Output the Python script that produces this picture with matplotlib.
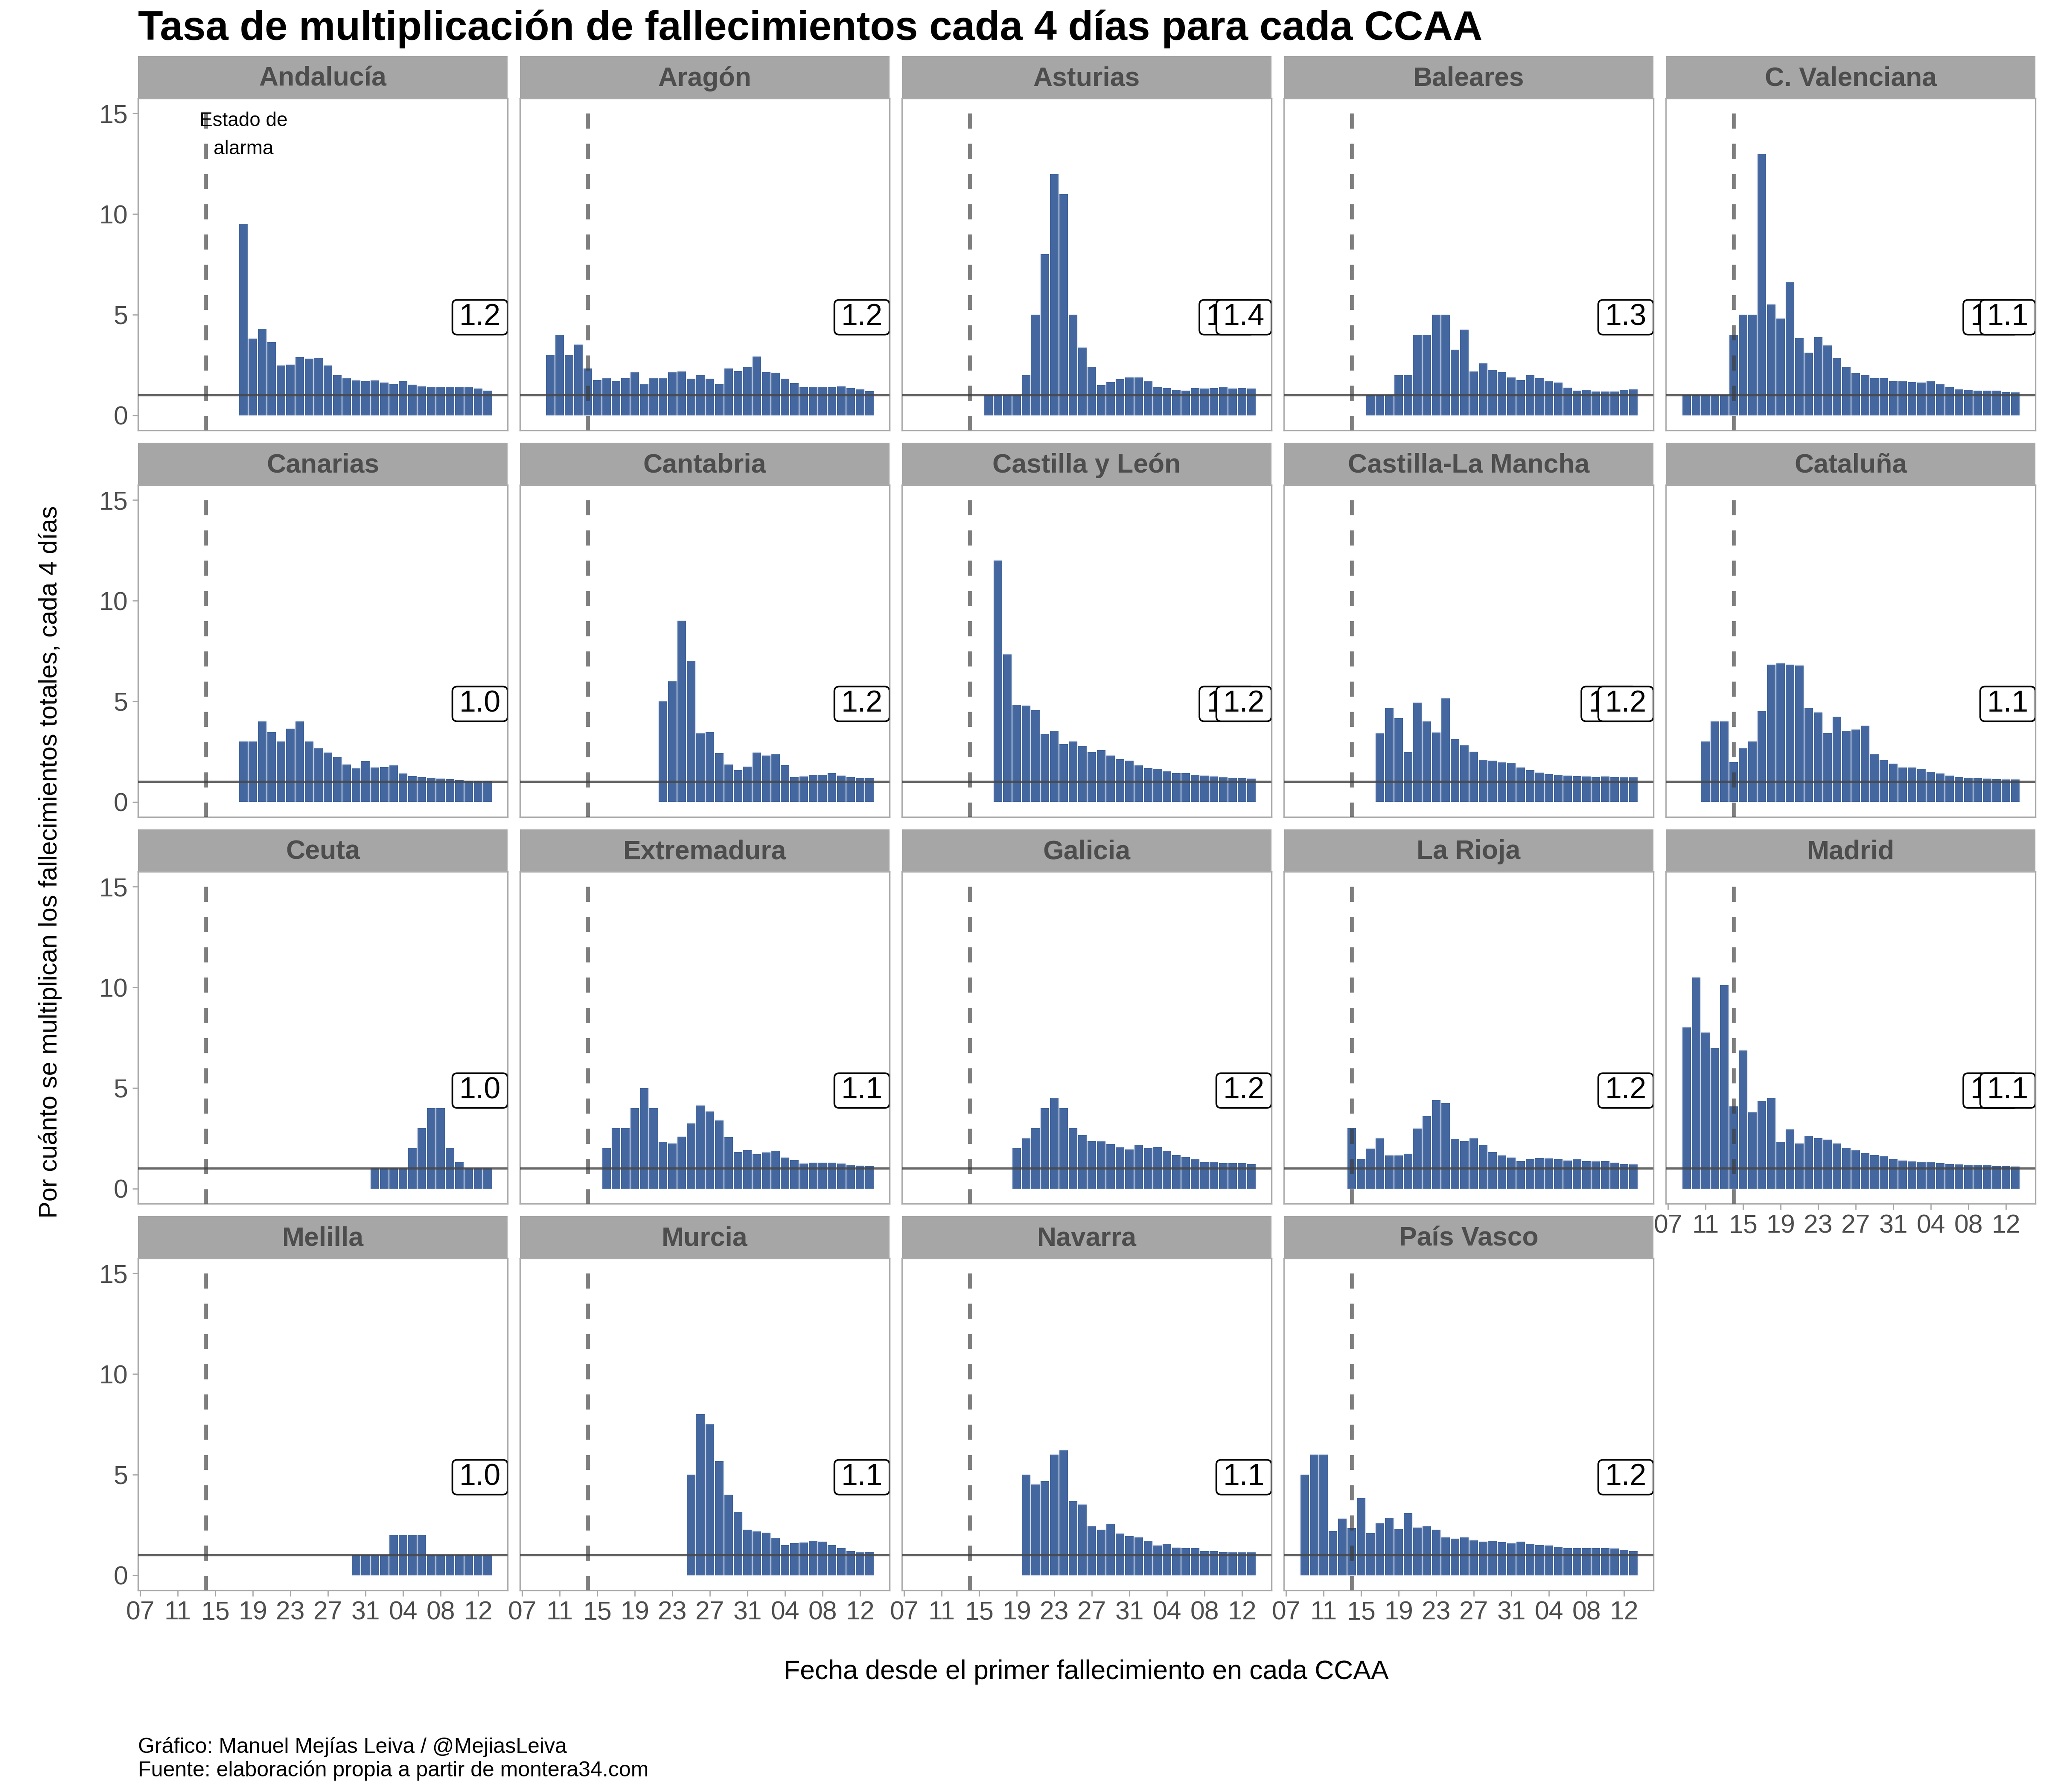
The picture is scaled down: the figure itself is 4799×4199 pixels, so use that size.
import numpy as np
import matplotlib
matplotlib.use("Agg")
import matplotlib.pyplot as plt
import matplotlib.dates as mdates
from matplotlib.patches import BoxStyle, Rectangle

plt.rcParams['font.family'] = ['Liberation Sans', 'DejaVu Sans']

# Ratio of total deaths vs. four days before
andalucia = [9.5, 3.81, 4.28, 3.63, 2.47, 2.51, 2.89, 2.82, 2.85, 2.47, 2.0, 1.83, 1.74, 1.70, 1.74, 1.63,
             1.57, 1.7, 1.52, 1.43, 1.39, 1.40, 1.39, 1.40, 1.39, 1.32, 1.23]
aragon = [3.0, 4.0, 3.0, 3.51, 2.33, 1.76, 1.84, 1.71, 1.86, 2.14, 1.54, 1.84, 1.84, 2.14, 2.18, 1.82, 2.01,
          1.82, 1.57, 2.33, 2.2, 2.39, 2.92, 2.16, 2.12, 1.82, 1.61, 1.42, 1.40, 1.40, 1.42, 1.44, 1.35, 1.29, 1.21]
asturias = [1, 1, 1, 1, 2.0, 5, 8, 12, 11, 5, 3.37, 2.4, 1.49, 1.64, 1.8, 1.88, 1.88, 1.68, 1.42, 1.36, 1.26,
            1.23, 1.36, 1.33, 1.36, 1.4, 1.32, 1.36, 1.33]
baleares = [1, 1, 1, 2, 2, 4, 4, 5, 5, 3.25, 4.25, 2.18, 2.59, 2.23, 2.15, 1.88, 1.76, 2.0, 1.85, 1.68, 1.62,
            1.38, 1.23, 1.24, 1.17, 1.19, 1.19, 1.26, 1.29]
valenciana = [1, 1, 1, 1, 1, 4, 5, 5, 13, 5.5, 4.8, 6.6, 3.83, 3.12, 3.9, 3.47, 2.85, 2.4, 2.1, 2.0, 1.85, 1.85,
              1.7, 1.68, 1.65, 1.63, 1.68, 1.54, 1.42, 1.29, 1.26, 1.23, 1.23, 1.22, 1.15, 1.13]
canarias = [3, 3, 4, 3.48, 3, 3.65, 4, 3, 2.66, 2.46, 2.24, 1.86, 1.67, 2.03, 1.71, 1.73, 1.81, 1.42, 1.28, 1.25,
            1.2, 1.16, 1.14, 1.09, 1.06, 1.04, 1.04]
cantabria = [5, 6, 9, 7, 3.4, 3.48, 2.43, 1.86, 1.59, 1.76, 2.46, 2.3, 2.37, 1.84, 1.25, 1.27, 1.33, 1.35, 1.43,
             1.31, 1.25, 1.18, 1.18]
castilla_leon = [12, 7.32, 4.83, 4.78, 4.57, 3.36, 3.51, 2.87, 3, 2.77, 2.47, 2.58, 2.3, 2.13, 2.05, 1.81, 1.69,
                 1.62, 1.52, 1.43, 1.43, 1.35, 1.31, 1.27, 1.23, 1.2, 1.18, 1.16]
castilla_mancha = [3.4, 4.66, 4.18, 2.47, 4.93, 4, 3.45, 5.14, 3.13, 2.81, 2.5, 2.07, 2.05, 1.96, 1.93, 1.71,
                   1.59, 1.45, 1.4, 1.35, 1.31, 1.28, 1.27, 1.25, 1.27, 1.25, 1.23, 1.23]
cataluna = [3, 4, 4, 1.99, 2.67, 3, 4.5, 6.83, 6.88, 6.83, 6.77, 4.65, 4.44, 3.43, 4.23, 3.51, 3.6, 3.79, 2.37,
            2.09, 1.9, 1.71, 1.71, 1.65, 1.5, 1.42, 1.31, 1.25, 1.21, 1.18, 1.16, 1.14, 1.12, 1.12]
ceuta = [1, 1, 1, 1, 2, 3, 4, 4, 2, 1.33, 1, 1, 1]
extremadura = [2, 3, 3, 4, 5, 4, 2.33, 2.24, 2.58, 3.24, 4.13, 3.83, 3.39, 2.56, 1.82, 1.93, 1.71, 1.8, 1.88,
               1.54, 1.42, 1.25, 1.29, 1.29, 1.29, 1.25, 1.16, 1.14, 1.12]
galicia = [2, 2.5, 3, 4, 4.49, 4, 3, 2.67, 2.37, 2.35, 2.22, 2.05, 1.95, 2.18, 2.0, 2.07, 1.88, 1.67, 1.57, 1.46,
           1.33, 1.31, 1.27, 1.27, 1.27, 1.23]
la_rioja = [3, 1.47, 1.98, 2.5, 1.65, 1.65, 1.73, 2.98, 3.59, 4.4, 4.26, 2.46, 2.36, 2.5, 2.16, 1.82, 1.65, 1.54,
            1.38, 1.47, 1.52, 1.5, 1.47, 1.39, 1.46, 1.38, 1.35, 1.38, 1.28, 1.23, 1.2]
madrid = [8, 10.49, 7.75, 7, 10.1, 4.08, 6.86, 3.78, 4.37, 4.52, 2.32, 2.94, 2.25, 2.6, 2.51, 2.43, 2.25, 2.02,
          1.9, 1.77, 1.67, 1.61, 1.47, 1.39, 1.35, 1.31, 1.31, 1.27, 1.23, 1.2, 1.16, 1.16, 1.16, 1.12, 1.12, 1.09]
melilla = [1, 1, 1, 1, 2, 2, 2, 2, 1, 1, 1, 1, 1, 1, 1]
murcia = [5, 8, 7.51, 5.67, 4, 3.13, 2.27, 2.18, 2.11, 1.84, 1.5, 1.61, 1.63, 1.69, 1.67, 1.5, 1.34, 1.21, 1.14, 1.16]
navarra = [5, 4.51, 4.68, 6, 6.2, 3.68, 3.51, 2.43, 2.27, 2.56, 2.08, 1.95, 1.87, 1.69, 1.48, 1.53, 1.37, 1.34,
           1.35, 1.21, 1.21, 1.16, 1.13, 1.14, 1.13]
pais_vasco = [5, 6, 6, 2.2, 2.82, 2.34, 3.83, 2.09, 2.58, 2.85, 2.3, 3.09, 2.37, 2.43, 2.27, 1.88, 1.82, 1.87, 1.74,
              1.67, 1.71, 1.65, 1.59, 1.67, 1.56, 1.5, 1.48, 1.4, 1.34, 1.34, 1.34, 1.35, 1.34, 1.32, 1.27, 1.21]

regiones = ['Andalucía', 'Aragón', 'Asturias', 'Baleares', 'C. Valenciana',
            'Canarias', 'Cantabria', 'Castilla y León', 'Castilla-La Mancha', 'Cataluña',
            'Ceuta', 'Extremadura', 'Galicia', 'La Rioja', 'Madrid',
            'Melilla', 'Murcia', 'Navarra', 'País Vasco']
series = [andalucia, aragon, asturias, baleares, valenciana,
          canarias, cantabria, castilla_leon, castilla_mancha, cataluna,
          ceuta, extremadura, galicia, la_rioja, madrid,
          melilla, murcia, navarra, pais_vasco]
# first date with data in each region
inicio = ['2020-03-18', '2020-03-10', '2020-03-16', '2020-03-16', '2020-03-09',
          '2020-03-18', '2020-03-22', '2020-03-17', '2020-03-17', '2020-03-11',
          '2020-04-01', '2020-03-16', '2020-03-19', '2020-03-14', '2020-03-09',
          '2020-03-30', '2020-03-25', '2020-03-20', '2020-03-09']
etiquetas = ['1.2', '1.2', '1.4', '1.3', '1.1',
             '1.0', '1.2', '1.2', '1.2', '1.1',
             '1.0', '1.1', '1.2', '1.2', '1.1',
             '1.0', '1.1', '1.1', '1.2']
# some panels have a second label hidden behind the first one
etiquetas_ocultas = {'Asturias': '1.3', 'C. Valenciana': '1.2', 'Castilla y León': '1.2',
                     'Castilla-La Mancha': '1.2', 'Madrid': '1.1'}

FIN = np.datetime64('2020-04-13')
ALARMA = np.datetime64('2020-03-14')
TICKS = np.arange(np.datetime64('2020-03-07'), np.datetime64('2020-04-13'), np.timedelta64(4, 'D'))
Y_TICKS = [0, 5, 10, 15]

AZUL = '#44679f'
GRIS_TEXTO = '#4d4d4d'
GRIS_BORDE = '#ababab'
GRIS_STRIP = '#a6a6a6'

W, H = 4799, 4199
DPI = 300
base = mdates.date2num(np.datetime64('2020-03-07'))
X_LIM = (base - 0.23, base + 39.14)


def caja_etiqueta(x0, y0, ancho, alto, escala):
    # geom_label box: wider than tall, so the padding differs per direction
    pad_x, pad_y = 0.23 * escala, 0.11 * escala
    redondo = BoxStyle('Round', pad=0, rounding_size=0.16)
    return redondo(x0 - pad_x, y0 - pad_y, ancho + 2 * pad_x, alto + 2 * pad_y, escala)


def dibuja_panel(fig, i):
    fila, col = divmod(i, 5)
    left, top = 324 + 895 * col, 231 + 906 * fila
    ax = fig.add_axes([left / W, 1 - (top + 778) / H, 866 / W, 778 / H])

    fechas = np.arange(np.datetime64(inicio[i]), FIN + np.timedelta64(1, 'D'), np.timedelta64(1, 'D'))
    ax.bar(fechas, series[i], width=0.9, color=AZUL, linewidth=0, zorder=2)
    ax.axhline(1, color='#474747', alpha=0.83, linewidth=1.3, zorder=3)
    ax.plot([ALARMA, ALARMA], [15, -0.75], color='#3c3c3c', alpha=0.66, linewidth=2.1,
            dashes=(4.05, 4.05), dash_capstyle='butt', zorder=3)

    ax.set_xlim(X_LIM)
    ax.set_ylim(-0.75, 15.75)
    ax.set_xticks(mdates.date2num(TICKS))
    ax.xaxis.set_major_formatter(mdates.DateFormatter('%d'))
    ax.set_yticks(Y_TICKS)

    # only outer panels carry axis labels, like facet_wrap
    con_x = fila == 3 or regiones[i] == 'Madrid'
    ax.tick_params(axis='x', bottom=con_x, labelbottom=con_x, length=3.3, width=0.7, color=GRIS_BORDE,
                   labelcolor=GRIS_TEXTO, labelsize=14.6, pad=2.5)
    ax.tick_params(axis='y', left=col == 0, labelleft=col == 0, length=3.2, width=0.7, color=GRIS_BORDE,
                   labelcolor=GRIS_TEXTO, labelsize=14.6, pad=2.5)

    for s in ax.spines.values():
        s.set_color(GRIS_BORDE)
        s.set_linewidth(0.8)

    # facet strip
    ax.add_patch(Rectangle((0, 1), 1, 99 / 778, transform=ax.transAxes, facecolor=GRIS_STRIP,
                           edgecolor='none', clip_on=False))
    ax.text(0.5, 1 + 46 / 778, regiones[i], transform=ax.transAxes, ha='center', va='center',
            fontsize=15, fontweight='bold', color=GRIS_TEXTO)

    caja = dict(boxstyle=caja_etiqueta, facecolor='white', edgecolor='black', linewidth=0.9)
    if regiones[i] in etiquetas_ocultas:
        ax.text(base + 34.4, 4.87, etiquetas_ocultas[regiones[i]], ha='center', va='center', fontsize=16.8,
                bbox=caja, clip_on=True, zorder=4)
    ax.text(base + 36.2, 4.87, etiquetas[i], ha='center', va='center', fontsize=16.8,
            bbox=caja, clip_on=True, zorder=5)

    if i == 0:
        ax.text(mdates.date2num(np.datetime64('2020-03-18')), 13.93, 'Estado de\nalarma', ha='center', va='center',
                fontsize=11, linespacing=1.65, zorder=6)
    return ax


fig = plt.figure(figsize=(W / DPI, H / DPI), dpi=DPI, facecolor='white')

for i in range(len(regiones)):
    dibuja_panel(fig, i)

fig.text(324 / W, 1 - 94 / H, 'Tasa de multiplicación de fallecimientos cada 4 días para cada CCAA',
         fontsize=23.06, fontweight='bold', color='black', ha='left', va='baseline')
fig.text(2546 / W, 1 - 3919 / H, 'Fecha desde el primer fallecimiento en cada CCAA',
         fontsize=15, ha='center', va='center')
fig.text(118 / W, 1 - 2020 / H, 'Por cuánto se multiplican los fallecimientos totales, cada 4 días',
         fontsize=14.3, rotation=90, ha='center', va='center')
fig.text(324 / W, 1 - 4094 / H, 'Gráfico: Manuel Mejías Leiva / @MejiasLeiva', fontsize=12, ha='left', va='center')
fig.text(324 / W, 1 - 4149 / H, 'Fuente: elaboración propia a partir de montera34.com', fontsize=12,
         ha='left', va='center')

fig.savefig('out.png', dpi=DPI)
plt.close(fig)
